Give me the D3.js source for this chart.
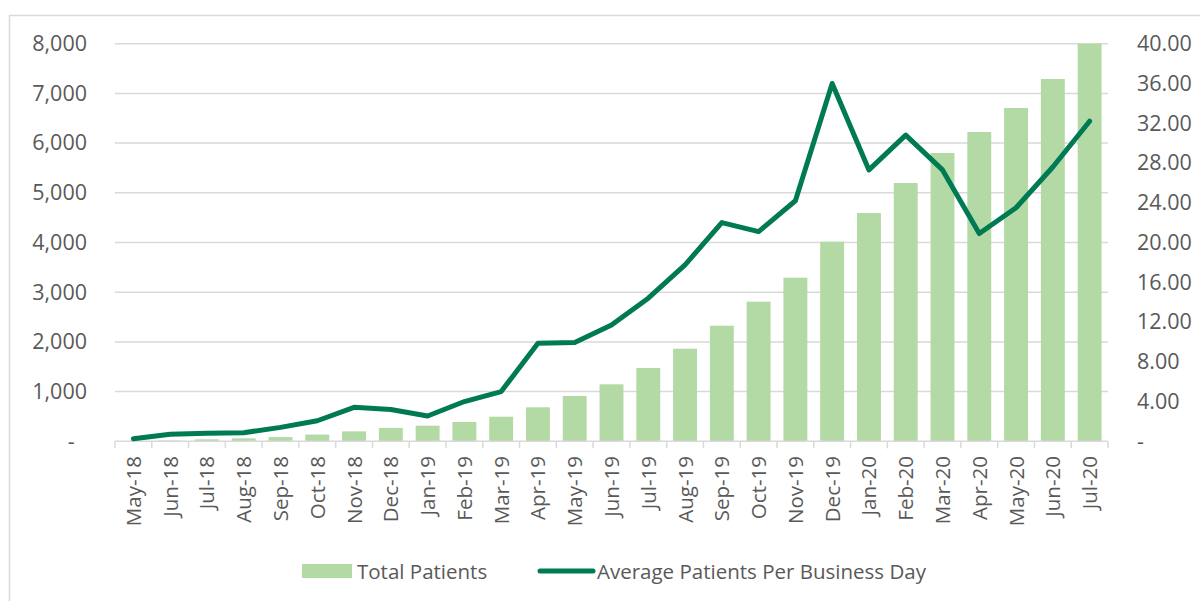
<!DOCTYPE html>
<html>
<head>
<meta charset="utf-8">
<script src="https://cdn.jsdelivr.net/npm/d3@7"></script>
<style>
  body { margin: 0; background: #fff; }
  text { font-family: "Open Sans", "Noto Sans", sans-serif; fill: #595959; }
</style>
</head>
<body>
<svg id="chart" width="1200" height="601"></svg>
<script>
// months on the x axis
var months = ["May-18","Jun-18","Jul-18","Aug-18","Sep-18","Oct-18","Nov-18","Dec-18",
              "Jan-19","Feb-19","Mar-19","Apr-19","May-19","Jun-19","Jul-19","Aug-19",
              "Sep-19","Oct-19","Nov-19","Dec-19","Jan-20","Feb-20","Mar-20","Apr-20",
              "May-20","Jun-20","Jul-20"];

// cumulative total patients (left axis)
var totalPatients = [5, 15, 40, 60, 85, 135, 200, 270,
                     314, 388, 495, 684, 911, 1147, 1475, 1863,
                     2326, 2809, 3292, 4016, 4594, 5197, 5801, 6223,
                     6706, 7290, 8000];

// average patients per business day (right axis)
var avgPerDay = [0.25, 0.7, 0.8, 0.87, 1.4, 2.07, 3.42, 3.2,
                 2.55, 4.0, 5.0, 9.87, 9.95, 11.7, 14.4, 17.75,
                 22.0, 21.1, 24.2, 36.0, 27.3, 30.8, 27.3, 20.9,
                 23.5, 27.6, 32.2];

var leftTicks = [0, 1000, 2000, 3000, 4000, 5000, 6000, 7000, 8000];
var rightTicks = [0, 4, 8, 12, 16, 20, 24, 28, 32, 36, 40];

var seriesNames = ["Total Patients", "Average Patients Per Business Day"];

var barColor = "#b3d9a5";
var lineColor = "#007a53";
var gridColor = "#d9d9d9";

var svg = d3.select("#chart");

// chart frame (only left and top edges are visible)
svg.append("rect")
    .attr("x", 9.5).attr("y", 15.5)
    .attr("width", 1300).attr("height", 700)
    .attr("fill", "none")
    .attr("stroke", gridColor)
    .attr("stroke-width", 1.5);

var plot = { left: 115, right: 1108, top: 43.7, bottom: 441.3 };

var x = d3.scaleBand().domain(months).range([plot.left, plot.right]).paddingInner(0.35).paddingOuter(0.175);
var xEdge = d3.scaleBand().domain(months).range([plot.left, plot.right]).padding(0);
var yL = d3.scaleLinear().domain([0, 8000]).range([plot.bottom, plot.top]);
var yR = d3.scaleLinear().domain([0, 40]).range([plot.bottom, plot.top]);

// gridlines
svg.append("g").selectAll("line")
    .data(leftTicks.slice(1))
    .enter().append("line")
    .attr("x1", plot.left).attr("x2", plot.right)
    .attr("y1", function (d) { return yL(d); })
    .attr("y2", function (d) { return yL(d); })
    .attr("stroke", gridColor)
    .attr("stroke-width", 1.5);

// bars
svg.append("g").selectAll("rect")
    .data(totalPatients)
    .enter().append("rect")
    .attr("x", function (d, i) { return x(months[i]); })
    .attr("width", x.bandwidth())
    .attr("y", function (d) { return yL(d); })
    .attr("height", function (d) { return plot.bottom - yL(d); })
    .attr("fill", barColor);

// x axis line + tick marks at category boundaries
var xAxis = svg.append("g");
xAxis.append("line")
    .attr("x1", plot.left).attr("x2", plot.right)
    .attr("y1", plot.bottom).attr("y2", plot.bottom)
    .attr("stroke", gridColor).attr("stroke-width", 1.5);
var edges = months.map(function (m) { return xEdge(m); }).concat([plot.right]);
xAxis.selectAll(".tk")
    .data(edges)
    .enter().append("line")
    .attr("class", "tk")
    .attr("x1", function (d) { return d; }).attr("x2", function (d) { return d; })
    .attr("y1", plot.bottom).attr("y2", plot.bottom + 7)
    .attr("stroke", gridColor).attr("stroke-width", 1.5);

xAxis.selectAll("text")
    .data(months)
    .enter().append("text")
    .attr("transform", function (d) {
        return "translate(" + (xEdge(d) + xEdge.bandwidth() / 2 + 7.5) + "," + 456 + ") rotate(-90)";
    })
    .attr("text-anchor", "end")
    .style("font-size", "20.5px")
    .text(function (d) { return d; });

// left axis
var fmtL = d3.format(",");
svg.append("g")
    .attr("transform", "translate(87,0)")
    .call(d3.axisLeft(yL).tickValues(leftTicks).tickSize(0).tickPadding(0)
        .tickFormat(function (d) { return d === 0 ? "-\u2007" : fmtL(d); }))
    .call(function (g) { g.select(".domain").remove(); })
    .selectAll("text")
    .style("font-size", "21.5px")
    .attr("fill", "#595959");

// right axis
svg.append("g")
    .attr("transform", "translate(1137,0)")
    .call(d3.axisRight(yR).tickValues(rightTicks).tickSize(0).tickPadding(0)
        .tickFormat(function (d) { return d === 0 ? "-" : d3.format(".2f")(d); }))
    .call(function (g) { g.select(".domain").remove(); })
    .selectAll("text")
    .style("font-size", "21.5px")
    .attr("fill", "#595959");

svg.selectAll(".tick text").attr("font-family", null);

// line
var line = d3.line()
    .x(function (d, i) { return xEdge(months[i]) + xEdge.bandwidth() / 2; })
    .y(function (d) { return yR(d); });

svg.append("path")
    .datum(avgPerDay)
    .attr("d", line)
    .attr("fill", "none")
    .attr("stroke", lineColor)
    .attr("stroke-width", 5)
    .attr("stroke-linejoin", "round")
    .attr("stroke-linecap", "round");

// legend
var legend = svg.append("g");
legend.append("rect")
    .attr("x", 302).attr("y", 564)
    .attr("width", 50).attr("height", 14)
    .attr("fill", barColor);
legend.append("text")
    .attr("x", 357).attr("y", 578.5)
    .style("font-size", "20.5px")
    .text(seriesNames[0]);
legend.append("line")
    .attr("x1", 540).attr("x2", 593)
    .attr("y1", 571).attr("y2", 571)
    .attr("stroke", lineColor).attr("stroke-width", 5)
    .attr("stroke-linecap", "round");
legend.append("text")
    .attr("x", 597).attr("y", 578.5)
    .style("font-size", "20.5px")
    .text(seriesNames[1]);
</script>
</body>
</html>
